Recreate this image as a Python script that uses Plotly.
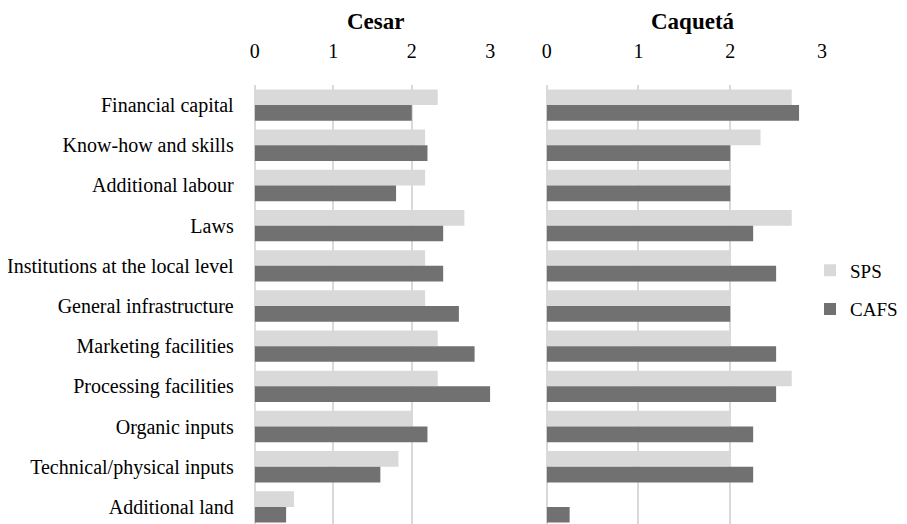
import plotly.graph_objects as go

categories = ["Financial capital", "Know-how and skills", "Additional labour", "Laws",
              "Institutions at the local level", "General infrastructure",
              "Marketing facilities", "Processing facilities", "Organic inputs",
              "Technical/physical inputs", "Additional land"]

cesar_sps = [2.33, 2.17, 2.17, 2.67, 2.17, 2.17, 2.33, 2.33, 2.0, 1.83, 0.5]
cesar_cafs = [2.0, 2.2, 1.8, 2.4, 2.4, 2.6, 2.8, 3.0, 2.2, 1.6, 0.4]
caqueta_sps = [2.67, 2.33, 2.0, 2.67, 2.0, 2.0, 2.0, 2.67, 2.0, 2.0, 0.0]
caqueta_cafs = [2.75, 2.0, 2.0, 2.25, 2.5, 2.0, 2.5, 2.5, 2.25, 2.25, 0.25]

tick_vals = [0, 1, 2, 3]
panel_titles = ["Cesar", "Caquetá"]

SPS_COLOR = "#d9d9d9"
CAFS_COLOR = "#717171"
FONT = "Liberation Serif, Times New Roman, serif"

W, H = 907, 524
OFF = 8  # page body margin offset


def px(sx):
    return (sx - OFF) / W


def py(sy):
    return 1 - (sy - OFF) / H


fig = go.Figure()
fig.add_trace(go.Bar(y=categories, x=cesar_sps, orientation="h", name="SPS",
                     marker=dict(color=SPS_COLOR, line=dict(width=0)),
                     xaxis="x", yaxis="y", legendgroup="SPS"))
fig.add_trace(go.Bar(y=categories, x=cesar_cafs, orientation="h", name="CAFS",
                     marker=dict(color=CAFS_COLOR, line=dict(width=0)),
                     xaxis="x", yaxis="y", legendgroup="CAFS"))
fig.add_trace(go.Bar(y=categories, x=caqueta_sps, orientation="h", name="SPS",
                     marker=dict(color=SPS_COLOR, line=dict(width=0)),
                     xaxis="x2", yaxis="y2", legendgroup="SPS", showlegend=False))
fig.add_trace(go.Bar(y=categories, x=caqueta_cafs, orientation="h", name="CAFS",
                     marker=dict(color=CAFS_COLOR, line=dict(width=0)),
                     xaxis="x2", yaxis="y2", legendgroup="CAFS", showlegend=False))

xaxis_common = dict(range=[0, 3], side="top", tickvals=tick_vals, showgrid=True,
                    gridcolor="#d9d9d9", gridwidth=1.5, zeroline=True,
                    zerolinecolor="#d9d9d9", zerolinewidth=1.5, showline=False,
                    ticks="", ticklabelstandoff=22, automargin=False,
                    tickfont=dict(family=FONT, size=20, color="#000"))
yaxis_common = dict(autorange="reversed", categoryorder="array", categoryarray=categories,
                    domain=[py(527), py(85)], ticks="", showgrid=False, zeroline=False,
                    automargin=False,
                    tickfont=dict(family=FONT, size=20, color="#000"))

fig.update_layout(
    width=W, height=H,
    margin=dict(l=0, r=0, t=0, b=0, autoexpand=False),
    paper_bgcolor="white", plot_bgcolor="white",
    barmode="group", bargap=0.22, bargroupgap=0,
    font=dict(family=FONT, size=20, color="#000"),
    xaxis=dict(domain=[px(254.7), px(490.3)], anchor="y", **xaxis_common),
    xaxis2=dict(domain=[px(546.7), px(822)], anchor="y2", **xaxis_common),
    yaxis=dict(anchor="x", ticklabelstandoff=20, **yaxis_common),
    yaxis2=dict(anchor="x2", showticklabels=False, matches="y", **yaxis_common),
    legend=dict(x=px(810), y=py(290), yanchor="middle", xanchor="left",
                traceorder="grouped", tracegroupgap=11, itemwidth=30,
                font=dict(family=FONT, size=19, color="#000"),
                bgcolor="rgba(0,0,0,0)"),
    showlegend=True,
)

fig.add_annotation(x=px(375), y=py(22), xref="paper", yref="paper",
                   text="<b>" + panel_titles[0] + "</b>", showarrow=False,
                   font=dict(family=FONT, size=23, color="#000"),
                   xanchor="center", yanchor="middle")
fig.add_annotation(x=px(693), y=py(22), xref="paper", yref="paper",
                   text="<b>" + panel_titles[1] + "</b>", showarrow=False,
                   font=dict(family=FONT, size=23, color="#000"),
                   xanchor="center", yanchor="middle")

fig.write_html("out.html")
